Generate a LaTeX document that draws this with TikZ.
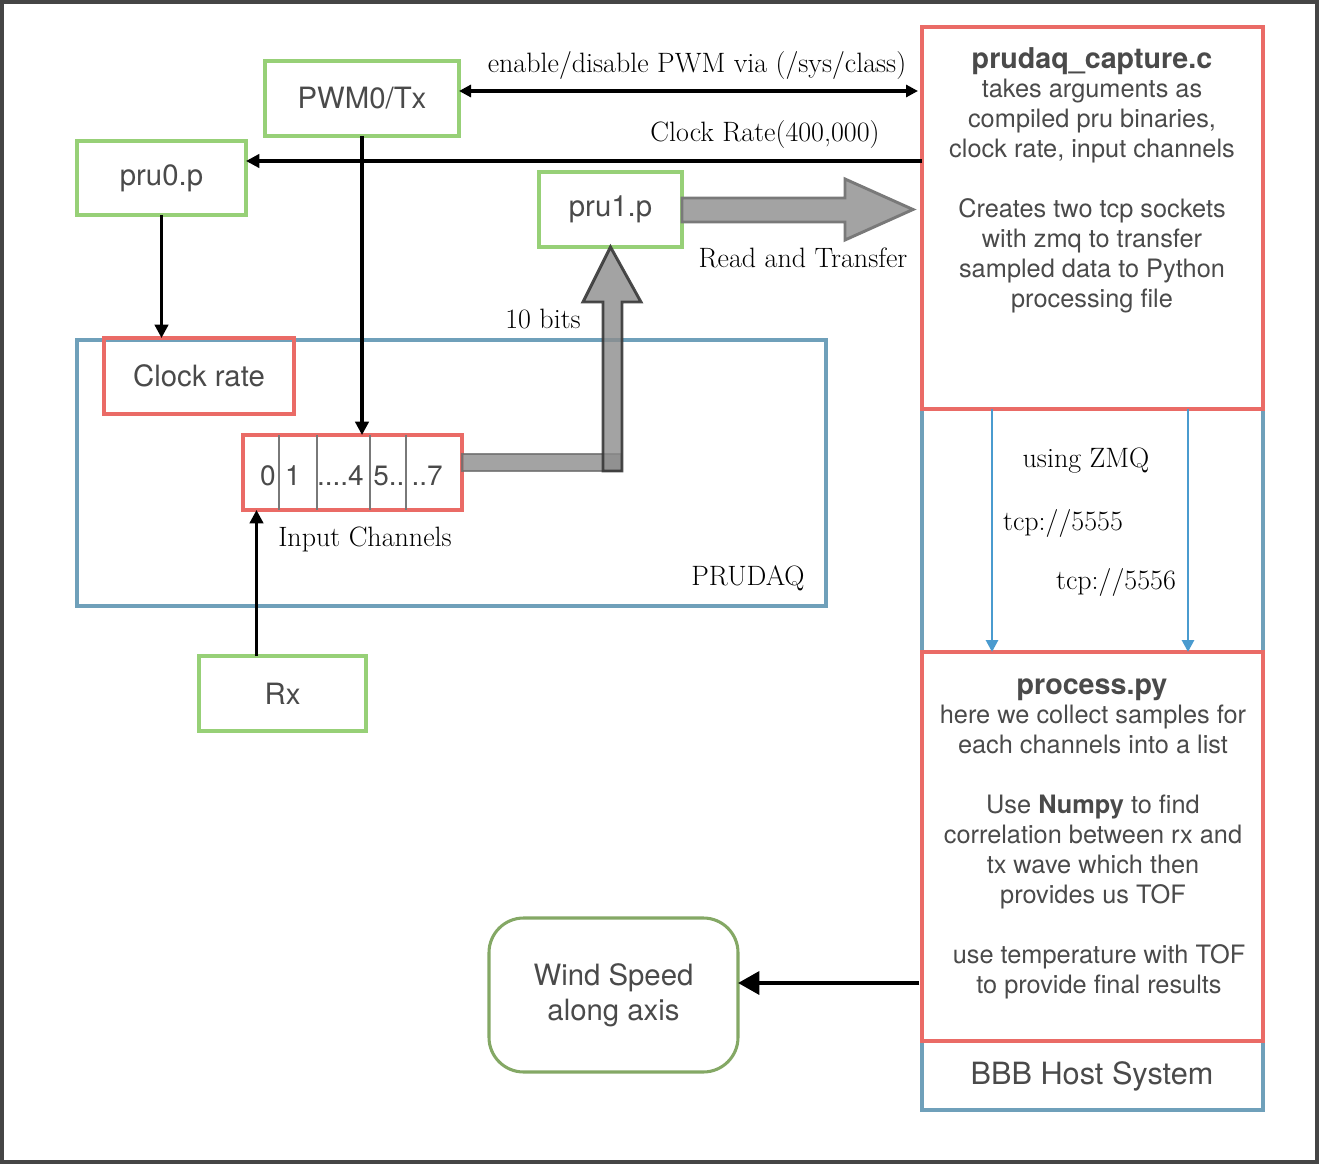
\documentclass[tikz,border=0pt]{standalone}
\usepackage{fontspec}
\usetikzlibrary{arrows.meta,fit,calc}
\newfontfamily\hv{TeX Gyre Heros}
\definecolor{boxgreen}{HTML}{97D077}
\definecolor{boxred}{HTML}{EA6B66}
\definecolor{boxblue}{HTML}{6FA0BA}
\definecolor{windgreen}{HTML}{84A865}
\definecolor{zmqblue}{HTML}{4A9BCF}
\definecolor{txtgray}{HTML}{4A4A4A}
\definecolor{framegray}{HTML}{454545}
\definecolor{busfill}{HTML}{8C8C8C}

\tikzset{
  gbox/.style={draw=boxgreen, line width=3pt, inner sep=0pt, outer sep=0pt},
  rbox/.style={draw=boxred, line width=2.5pt, inner sep=0pt, outer sep=0pt},
  bbox/.style={draw=boxblue, line width=3pt, inner sep=0pt, outer sep=0pt},
  boxtext/.style={font=\hv\fontsize{22}{26}\selectfont, text=txtgray, inner sep=0pt, align=center},
  lbl/.style={font=\fontsize{21}{24}\selectfont, text=black, inner sep=0pt, anchor=base},
  body/.style={font=\hv\fontsize{19}{22}\selectfont, text=txtgray, inner sep=0pt, anchor=base},
  head/.style={font=\hv\bfseries\fontsize{21.5}{26}\selectfont, text=txtgray, inner sep=0pt, anchor=base},
  digit/.style={font=\hv\fontsize{21}{25}\selectfont, text=txtgray, inner sep=0pt, anchor=base},
  arr/.style={line width=2.4pt, -{Triangle[length=10pt,width=10pt]}},
  dblarr/.style={line width=2.4pt, {Triangle[length=9pt,width=9pt]}-{Triangle[length=9pt,width=9pt]}},
  zmqarr/.style={draw=zmqblue, line width=2.1pt, -{Triangle[length=9pt,width=9pt]}},
  bigarr/.style={line width=3.3pt, -{Triangle[length=16pt,width=17pt]}},
  divider/.style={draw=gray!95!black, line width=1.5pt},
}

\begin{document}
\begin{tikzpicture}[x=0.75pt, y=-0.75pt]
\useasboundingbox (0,0) rectangle (1322,1166);

% outer frame
\draw[framegray, line width=2.4pt] (2,2) rectangle (1317,1162);

% host system column
\node[bbox, fit={(922,27) (1263,1110)}] (host) {};
\node[rbox, fit={(922,27) (1263,409)}] (cap) {};
\node[rbox, fit={(922,652) (1263,1041)}] (proc) {};
\node[font=\hv\fontsize{23}{26}\selectfont, text=txtgray, inner sep=0pt, anchor=base] (hostname) at (1092,1084) {BBB Host System};

% prudaq_capture.c description
\node[head] (captitle) at (1092,69) {prudaq\_capture.c};
\foreach \y/\t [count=\i] in {98/takes arguments as, {128/compiled pru binaries,}, {158/clock rate, input channels},
    218/Creates two tcp sockets, 248/with zmq to transfer, 278/sampled data to Python, 308/processing file}
  \node[body] (capline\i) at (1092,\y) {\t};

% process.py description
\node[head] (proctitle) at (1092,694) {process.py};
\foreach \x/\y/\t [count=\i] in {1093/723/here we collect samples for, 1093/753/each channels into a list,
    1093/813/Use \textbf{Numpy} to find, 1093/843/correlation between rx and, 1093/873/tx wave which then,
    1093/903/provides us TOF, 1099/963/use temperature with TOF, 1099/993/to provide final results}
  \node[body] (procline\i) at (\x,\y) {\t};

% ZMQ sockets between the two programs
\draw[zmqarr] (cap.south -| 992,0) -- (proc.north -| 992,0);
\draw[zmqarr] (cap.south -| 1188,0) -- (proc.north -| 1188,0);
\node[lbl] (zmq) at (1086,467) {using ZMQ};
\node[lbl] (tcpa) at (1063,530) {tcp://5555};
\node[lbl] (tcpb) at (1116,589) {tcp://5556};

% PRUDAQ board
\node[bbox, fit={(77,340) (826,606)}] (prudaq) {};
\node[rbox, fit={(104,338) (294,414)}] (clk) {};
\node[boxtext] (clktxt) at (clk.center) {Clock rate};
\node[lbl] (prudaqname) at (748,585) {PRUDAQ};

% input channel register
\node[rbox, fit={(243,435) (462,510)}] (chan) {};
\foreach \x in {279,317,370,406}
  \draw[divider] (\x,0 |- chan.north) -- (\x,0 |- chan.south);
\node[digit] (ch0) at (268,485) {0};
\node[digit] (ch1) at (293,485) {1};
\node[digit, anchor=base east] (ch4) at (364,485) {....4};
\node[digit, anchor=base west] (ch5) at (373,485) {5..};
\node[digit, anchor=base east] (ch7) at (443,485) {..7};
\node[lbl] (chanlbl) at (365,546) {Input Channels};

% PRU programs and signal boxes
\node[gbox, fit={(265,61) (459,136)}] (pwm) {};
\node[boxtext] (pwmtxt) at (pwm.center) {PWM0/Tx};
\node[gbox, fit={(77,141) (246,215)}] (pru0) {};
\node[boxtext] (pru0txt) at (pru0.center) {pru0.p};
\node[gbox, fit={(539,172) (682,247)}] (pru1) {};
\node[boxtext] (pru1txt) at (pru1.center) {pru1.p};
\node[gbox, fit={(199,656) (366,731)}] (rx) {};
\node[boxtext] (rxtxt) at (rx.center) {Rx};
\node[draw=windgreen, line width=2.3pt, rounded corners=26pt, inner sep=0pt, outer sep=0pt,
      fit={(489,918) (738,1072)}] (wind) {};
\node[boxtext, font=\hv\fontsize{22}{26.5}\selectfont] (windtxt) at (wind.center) {Wind Speed\\along axis};

% control connections
\coordinate (pwmrow) at (0,91);
\coordinate (clkrow) at (0,161);
\coordinate (resrow) at (0,983);
\draw[dblarr] (pwm.east |- pwmrow) -- ([xshift=-3pt]cap.west |- pwmrow);
\node[lbl] (pwmlbl) at (697,73) {enable/disable PWM via (/sys/class)};
\draw[arr] (cap.west |- clkrow) -- (pru0.east |- clkrow);
\node[lbl] (clklbl) at (765,142) {Clock Rate(400,000)};
\draw[arr] (pru0.south) -- (pru0.south |- clk.north);
\draw[arr] (pwm.south) -- (pwm.south |- chan.north);
\draw[arr] ([xshift=-19.5pt]rx.north) -- ([xshift=-19.5pt]rx.north |- chan.south);

% data path: channels -> pru1 -> host
\draw[draw=gray!85!black, draw opacity=0.8, fill=busfill, fill opacity=0.8, line width=2.2pt]
  (chan.east |- 0,454) -- (621,454) -- (621,471) -- (chan.east |- 0,471) -- cycle;
\draw[draw=black!78, draw opacity=0.9, fill=busfill, fill opacity=0.8, line width=2.2pt]
  (603,471) -- (603,302) -- (583,302) -- (pru1.south) -- (641,302) -- (622,302) -- (622,471) -- cycle;
\node[lbl] (bitslbl) at (543,329) {10 bits};
\draw[draw=gray!95!black, fill=busfill!80!white, line width=2.2pt]
  (pru1.east |- 0,198) -- (845,198) -- (845,179) -- ([xshift=-6.75pt]cap.west |- pru1.east)
  -- (845,240) -- (845,222) -- (pru1.east |- 0,222) -- cycle;
\node[lbl] (readlbl) at (803,268) {Read and Transfer};

% results
\draw[bigarr] ([xshift=-2pt]proc.west |- resrow) -- (wind.east |- resrow);

\end{tikzpicture}
\end{document}
